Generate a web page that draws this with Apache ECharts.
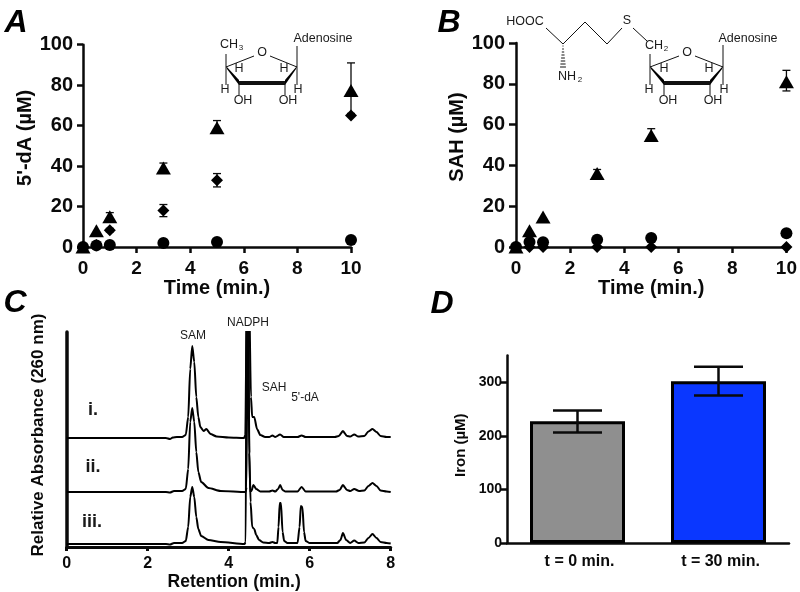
<!DOCTYPE html>
<html><head><meta charset="utf-8">
<script src="https://cdn.jsdelivr.net/npm/echarts@6/dist/echarts.min.js"></script>
<style>html,body{margin:0;padding:0;background:#fff}#c{width:800px;height:592px}</style>
</head><body><div id="c"></div>
<script>
// ---------- Panel A (5'-dA) ----------
const timeMin = [0, 0.5, 1, 3, 5, 10];
const aTriangle = [0, 8, 15, 39, 59, 77.4];
const aDiamond = [0, 1, 8.3, 18, 33, 65];
const aCircle = [0, 0.8, 1, 2, 2.5, 3.5];
const aTriErr = [[1, 13, 17], [3, 37.5, 41.5], [5, 57, 62.5], [10, 66, 91]];
const aDiaErr = [[1, 7.5, 9.2], [3, 15, 21], [5, 29.7, 36.3]];
// ---------- Panel B (SAH) ----------
const bTriangle = [0, 8, 14.7, 36, 54.7, 81];
const bDiamond = [0, 0, 0, 0, 0, 0];
const bCircle = [0, 2.5, 2.3, 3.6, 4.4, 6.7];
const bTriErr = [[3, 34.5, 38], [5, 53, 58], [10, 76.5, 86.6]];
// ---------- Panel C (chromatograms) ----------
const traceI = [[0,109],[2.45,109],[2.55,108],[2.62,109.5],[2.72,110],[2.85,110],[2.94,112],[3,130],[3.05,178],[3.1,201],[3.15,185],[3.2,150],[3.25,130],[3.3,120],[3.38,116],[3.45,118],[3.55,113],[3.7,110.5],[4,109.5],[4.38,109],[4.41,112],[4.45,260],[4.5,260],[4.55,150],[4.58,130],[4.63,130],[4.7,118],[4.78,112],[4.9,110],[5,110],[5.08,111.5],[5.15,110],[5.27,112.5],[5.36,110],[5.7,110],[5.8,111.5],[5.9,110],[6.62,110],[6.72,111],[6.82,116],[6.92,111],[7,110.5],[7.1,112.5],[7.2,110.5],[7.35,111],[7.45,115.5],[7.55,118],[7.65,115],[7.75,111],[7.9,110],[8,110]];
const traceII = [[0,55],[2.45,55],[2.55,54.5],[2.65,56],[2.85,56],[2.94,58],[3,78],[3.05,125],[3.1,139],[3.15,125],[3.2,95],[3.25,75],[3.32,65],[3.5,59],[3.8,56],[4.42,55],[4.44,60],[4.47,260],[4.48,260],[4.52,56],[4.56,56],[4.61,62],[4.68,58],[4.78,55.5],[5,55.5],[5.08,56.5],[5.15,55.5],[5.22,58],[5.27,62],[5.33,57],[5.4,55.5],[5.7,55.5],[5.8,60],[5.9,55.5],[6.65,55.5],[6.74,57],[6.82,62],[6.92,57],[7,56],[7.1,58],[7.22,56],[7.35,56.5],[7.45,61],[7.55,64],[7.65,61],[7.75,56.5],[7.9,55.5],[8,55]];
const traceIII = [[0,3],[2.45,3],[2.55,2.5],[2.65,4],[2.85,4],[2.94,6],[3,20],[3.05,50],[3.1,60],[3.15,50],[3.2,30],[3.25,18],[3.32,11],[3.5,7],[3.8,5],[4.39,3],[4.42,5],[4.44,260],[4.48,260],[4.51,94],[4.54,45],[4.58,20],[4.63,18],[4.68,12],[4.75,7],[4.85,4.5],[5,4],[5.08,5],[5.15,4],[5.2,4],[5.23,20],[5.26,44],[5.29,44],[5.33,15],[5.37,6],[5.45,4],[5.7,4],[5.75,20],[5.78,41],[5.82,40],[5.86,15],[5.9,6],[6,4],[6.68,4],[6.76,7],[6.82,14],[6.9,7],[7,4],[7.1,6.5],[7.2,4],[7.35,4.5],[7.45,9],[7.55,13],[7.65,9],[7.75,5],[7.9,4],[8,3.5]];
// ---------- Panel D (iron) ----------
const ironCats = ['t = 0 min.', 't = 30 min.'];
const ironVals = [227, 302];
const ironErr = [[0, 206, 247], [1, 275, 328.6]];
const ironTicks = [0, 100, 200, 300];
const ironColors = ['#8f8f8f', '#0a37ff'];

const FONT = '"Liberation Sans", Arial, sans-serif';
const INK = '#0a0a0a';
const pairs = ys => timeMin.map((t, i) => [t, ys[i]]);

function errItem(capW, lw) {
  return function (params, api) {
    const x = api.value(0), lo = api.coord([x, api.value(1)]), hi = api.coord([x, api.value(2)]);
    const st = { stroke: INK, lineWidth: lw, fill: null };
    const mk = (a, b, c, d) => ({ type: 'line', shape: { x1: a, y1: b, x2: c, y2: d }, style: st });
    return { type: 'group', children: [
      mk(hi[0], lo[1], hi[0], hi[1]),
      mk(hi[0] - capW / 2, hi[1], hi[0] + capW / 2, hi[1]),
      mk(hi[0] - capW / 2, lo[1], hi[0] + capW / 2, lo[1])
    ]};
  };
}
function axisCommon(w, tl, fs, labelMargin) {
  return {
    axisLine: { show: true, onZero: false, lineStyle: { color: INK, width: w } },
    axisTick: { show: true, length: tl, lineStyle: { color: INK, width: w } },
    axisLabel: { color: INK, fontFamily: FONT, fontWeight: 'bold', fontSize: fs, margin: labelMargin },
    splitLine: { show: false }
  };
}
function nameStyle(fs, extra) {
  return Object.assign({ color: INK, fontFamily: FONT, fontWeight: 'bold', fontSize: fs }, extra || {});
}

// Decorative chemistry and annotation drawn as graphic elements
const g = [];
const txt = (x, y, s, fs, o) => g.push({ type: 'text', silent: true, x, y, style: Object.assign({ text: s, fontFamily: FONT, fontSize: fs, fill: '#1a1a1a', align: 'center', verticalAlign: 'middle' }, o || {}) });
const seg = (x1, y1, x2, y2, w) => g.push({ type: 'line', silent: true, shape: { x1, y1, x2, y2 }, style: { stroke: '#111', lineWidth: w || 1 } });
const poly = pts => g.push({ type: 'polygon', silent: true, shape: { points: pts }, style: { fill: '#000' } });

function ring(xl, xr, xfl, xfr, oX, upL, upR) {
  seg(xl, 67, oX - 8, 56); seg(oX + 8, 56, xr, 67);
  seg(xl, upL, xl, 85); seg(xr, upR, xr, 85);
  poly([[xl, 66], [xfl, 80], [xfl, 85], [xl + 1, 69]]);
  poly([[xr, 66], [xfr, 80], [xfr, 85], [xr - 1, 69]]);
  seg(xfl, 83, xfr, 83, 4);
  seg(xfl, 84, xfl, 95); seg(xfr, 84, xfr, 95);
  txt(oX, 53, 'O', 12.5);
  txt(xfl, 69, 'H', 12.5); txt(xfr - 1, 69, 'H', 12.5);
  txt(xl - 1, 90, 'H', 12.5); txt(xr + 1, 90, 'H', 12.5);
  txt(xfl + 4, 101, 'OH', 12.5); txt(xfr + 3, 101, 'OH', 12.5);
}
// structure A
ring(226, 297, 239, 285, 262, 54, 46);
txt(229, 45, 'CH', 12.5); txt(241, 48, '3', 8);
txt(323, 39, 'Adenosine', 12.5);
// structure B
ring(650, 723, 664, 710, 687, 54, 45);
txt(654, 46, 'CH', 12.5); txt(666, 49, '2', 8);
txt(748, 39, 'Adenosine', 12.5);
txt(525, 22, 'HOOC', 12.5); txt(627, 21, 'S', 12.5);
seg(546, 28, 563, 44); seg(563, 44, 585, 22); seg(585, 22, 607, 44); seg(607, 44, 622, 28); seg(633, 28, 647, 41);
for (let i = 0; i < 8; i++) { const y = 46 + i * 3, hw = 0.5 + i * 0.35; seg(563 - hw, y, 563 + hw, y, 1); }
txt(567, 77, 'NH', 12.5); txt(580, 80, '2', 8);
// panel C peak names and trace labels
txt(193, 336, 'SAM', 12); txt(248, 323, 'NADPH', 12);
txt(274, 388, 'SAH', 12); txt(305, 398, "5'-dA", 12);
txt(93, 410, 'i.', 18, { fontWeight: 'bold' });
txt(93, 467, 'ii.', 18, { fontWeight: 'bold' });
txt(92, 522, 'iii.', 18, { fontWeight: 'bold' });
// panel letters
[['A', 16, 23], ['B', 449, 23], ['C', 15, 303], ['D', 442, 304]].forEach(p =>
  txt(p[1], p[2], p[0], 32, { fontWeight: 'bold', fontStyle: 'italic', fill: '#000' }));

const op = { color: '#000', opacity: 1 };
const option = {
  animation: false,
  backgroundColor: '#fff',
  graphic: g,
  grid: [
    { left: 83, top: 44.7, width: 268, height: 202.3 },
    { left: 516, top: 43, width: 271, height: 204 },
    { left: 66.7, top: 332, width: 324, height: 215 },
    { left: 507, top: 355.4, width: 282, height: 187.6 }
  ],
  xAxis: [
    Object.assign({ gridIndex: 0, type: 'value', min: 0, max: 10, interval: 2, name: 'Time (min.)', nameLocation: 'middle', nameGap: 30, nameTextStyle: nameStyle(20) }, axisCommon(2.5, 6, 19, 12)),
    Object.assign({ gridIndex: 1, type: 'value', min: 0, max: 10, interval: 2, name: 'Time (min.)', nameLocation: 'middle', nameGap: 29, nameTextStyle: nameStyle(20) }, axisCommon(2.5, 6, 19, 12)),
    Object.assign({ gridIndex: 2, type: 'value', min: 0, max: 8, interval: 2, name: 'Retention (min.)', nameLocation: 'middle', nameGap: 25, nameTextStyle: nameStyle(17.5, { padding: [0, 0, 0, 11] }) }, axisCommon(3, 4, 16, 9)),
    Object.assign({ gridIndex: 3, type: 'category', data: ironCats }, axisCommon(2.5, 0, 16, 11), { axisTick: { show: false }, axisLabel: { color: INK, fontFamily: FONT, fontWeight: 'bold', fontSize: 16, margin: 11, padding: [0, 0, 0, 4] } })
  ],
  yAxis: [
    Object.assign({ gridIndex: 0, type: 'value', min: 0, max: 100, interval: 20, name: "5'-dA (µM)", nameLocation: 'middle', nameGap: 43, nameTextStyle: nameStyle(20, { padding: [0, 0, 0, 16] }) }, axisCommon(2.5, 6, 20, 10)),
    Object.assign({ gridIndex: 1, type: 'value', min: 0, max: 100, interval: 20, name: 'SAH (µM)', nameLocation: 'middle', nameGap: 48, nameTextStyle: nameStyle(20, { padding: [0, 0, 0, 16] }) }, axisCommon(2.5, 7, 20, 11)),
    Object.assign({ gridIndex: 2, type: 'value', min: 0, max: 215, name: 'Relative Absorbance (260 nm)', nameLocation: 'middle', nameGap: 20, nameTextStyle: nameStyle(17, { padding: [0, 0, 0, 9] }) }, axisCommon(3.5, 0, 10, 4), { axisTick: { show: false }, axisLabel: { show: false } }),
    Object.assign({ gridIndex: 3, type: 'value', min: 0, max: 350, name: 'Iron (µM)', nameLocation: 'middle', nameGap: 39, nameTextStyle: nameStyle(15, { padding: [0, 0, 0, 8] }) }, axisCommon(2.5, 7, 14, 5),
      { axisTick: { show: true, length: 7, lineStyle: { color: INK, width: 2.5 }, customValues: ironTicks }, axisLabel: { color: INK, fontFamily: FONT, fontWeight: 'bold', fontSize: 14, margin: 5, customValues: ironTicks } })
  ],
  series: [
    { type: 'custom', xAxisIndex: 0, yAxisIndex: 0, data: aTriErr, renderItem: errItem(8, 1.3), encode: { x: 0, y: [1, 2] }, z: 2 },
    { type: 'custom', xAxisIndex: 0, yAxisIndex: 0, data: aDiaErr, renderItem: errItem(8, 1.3), encode: { x: 0, y: [1, 2] }, z: 2 },
    { type: 'scatter', xAxisIndex: 0, yAxisIndex: 0, data: pairs(aTriangle), symbol: 'triangle', symbolSize: [15, 13], clip: false, itemStyle: op, z: 3 },
    { type: 'scatter', xAxisIndex: 0, yAxisIndex: 0, data: pairs(aDiamond), symbol: 'diamond', symbolSize: 12, clip: false, itemStyle: op, z: 3 },
    { type: 'scatter', xAxisIndex: 0, yAxisIndex: 0, data: pairs(aCircle), symbol: 'circle', symbolSize: 12, clip: false, itemStyle: op, z: 3 },

    { type: 'custom', xAxisIndex: 1, yAxisIndex: 1, data: bTriErr, renderItem: errItem(8, 1.3), encode: { x: 0, y: [1, 2] }, z: 2 },
    { type: 'scatter', xAxisIndex: 1, yAxisIndex: 1, data: pairs(bTriangle), symbol: 'triangle', symbolSize: [15, 13], clip: false, itemStyle: op, z: 3 },
    { type: 'scatter', xAxisIndex: 1, yAxisIndex: 1, data: pairs(bDiamond), symbol: 'diamond', symbolSize: 12, clip: false, itemStyle: op, z: 3 },
    { type: 'scatter', xAxisIndex: 1, yAxisIndex: 1, data: pairs(bCircle), symbol: 'circle', symbolSize: 12, clip: false, itemStyle: op, z: 3 },

    { type: 'line', xAxisIndex: 2, yAxisIndex: 2, data: traceI, showSymbol: false, smooth: 0.25, smoothMonotone: 'x', lineStyle: { color: '#000', width: 2 } },
    { type: 'line', xAxisIndex: 2, yAxisIndex: 2, data: traceII, showSymbol: false, smooth: 0.25, smoothMonotone: 'x', lineStyle: { color: '#000', width: 2 } },
    { type: 'line', xAxisIndex: 2, yAxisIndex: 2, data: traceIII, showSymbol: false, smooth: 0.25, smoothMonotone: 'x', lineStyle: { color: '#000', width: 2 } },

    { type: 'bar', xAxisIndex: 3, yAxisIndex: 3, barWidth: 95, data: ironVals.map((v, i) => ({ value: v, itemStyle: { color: ironColors[i], borderColor: '#000', borderWidth: 3 } })) },
    { type: 'custom', xAxisIndex: 3, yAxisIndex: 3, data: ironErr, renderItem: errItem(49, 2.5), encode: { x: 0, y: [1, 2] }, z: 3 }
  ]
};
echarts.init(document.getElementById('c'), null, { renderer: 'canvas' }).setOption(option);
</script>
</body></html>
